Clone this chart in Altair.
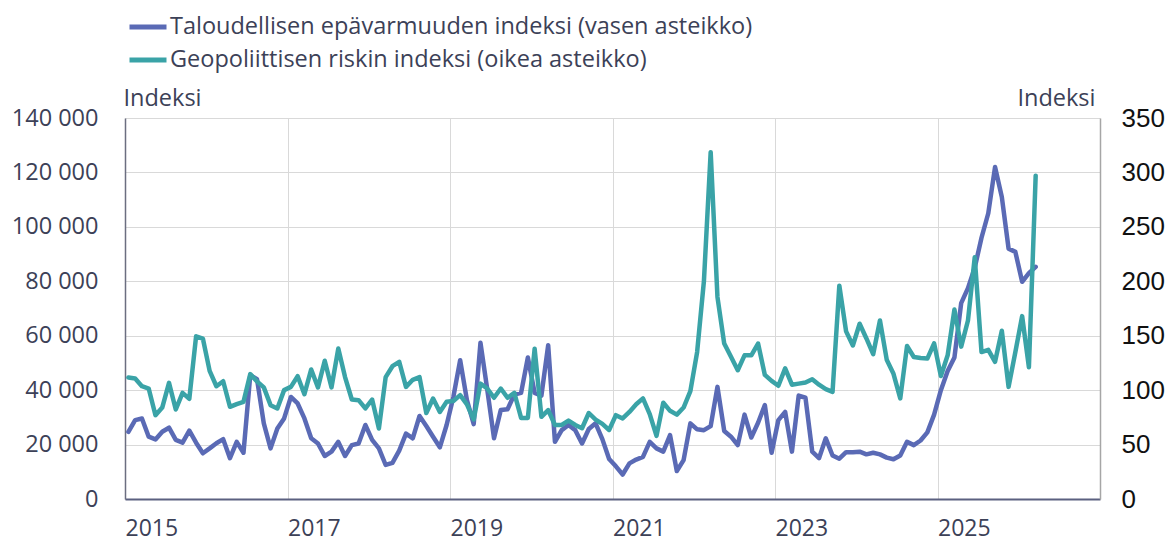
import altair as alt
import pandas as pd

# Monthly observations, Jan 2015 - Mar 2026
start_month = "2015-01-01"

econ = [24700, 29000, 29600, 22900, 21900, 24700, 26200, 21700, 20700, 25100,
        20700, 16800, 18600, 20500, 22000, 15000, 21000, 17000, 45500, 44000,
        27800, 18600, 25900, 29600, 37500, 35100, 29600, 22300, 20400, 15800,
        17400, 21000, 15800, 19800, 20400, 27200, 21700, 18600, 12500, 13300,
        17800, 24000, 22300, 30500, 26800, 22900, 19000, 27200, 37500, 51000,
        36300, 27500, 57400, 40300, 22300, 32700, 33000, 38400, 39000, 52000,
        39000, 38000, 56500, 21000, 25300, 27200, 25300, 20400, 25700, 27800,
        22000, 14700, 12000, 9000, 13100, 14500, 15500, 21000, 18600, 17400,
        23500, 10300, 14300, 27800, 25600, 25300, 26800, 41200, 25000, 22900,
        19800, 31000, 22600, 28000, 34500, 17000, 29000, 32000, 17400, 38000,
        37200, 17400, 15000, 22300, 16000, 14800, 17200, 17200, 17400, 16400,
        17000, 16400, 15200, 14600, 16000, 21000, 19800, 21500, 24500, 31000,
        40000, 47000, 52000, 72000, 77500, 85000, 96000, 105000, 122000, 111000,
        92000, 90800, 79800, 83000, 85300]

geo = [111.6, 110.7, 103.6, 101.5, 77, 84, 106.7, 82.2, 97.5, 92,
       149.5, 147.4, 117.7, 103.6, 108.2, 84.7, 87.2, 89.3, 114.7, 108,
       102.5, 86.2, 83.2, 100, 103, 112.8, 96.3, 119, 102.5, 127,
       102.5, 138.2, 112, 91.4, 90.8, 83.2, 91.4, 64.8, 112, 122,
       126, 103, 109.5, 112, 79, 92.3, 80, 89.3, 90, 95.4,
       87, 73, 106, 101.5, 93, 101.5, 93, 97.5, 74.5, 74.5,
       138, 75.5, 81.6, 68, 68, 72, 68, 65, 79, 73,
       69, 63.4, 77, 74, 80, 87, 92.4, 78, 58, 88.5,
       81, 77.5, 84, 99, 135, 200, 318.6, 185.6, 142.8, 130.6,
       118.3, 132, 132, 142.8, 114, 108.5, 104, 120, 105, 106,
       107, 110, 105, 101, 98.4, 196, 154, 141, 161, 147.5,
       133, 164, 128, 115, 92.4, 140.5, 130.5, 129.5, 129, 143,
       113, 132, 174, 140, 164, 222, 135, 137, 126, 154.5,
       103, 135, 168, 121, 297]

series_names = ["Taloudellisen epävarmuuden indeksi (vasen asteikko)",
                "Geopoliittisen riskin indeksi (oikea asteikko)"]
series_colors = ["#5a6ab5", "#3aa3a7"]

year_ticks = [2015, 2017, 2019, 2021, 2023, 2025]
left_ticks = [0, 20000, 40000, 60000, 80000, 100000, 120000, 140000]
right_ticks = [0, 50, 100, 150, 200, 250, 300, 350]

dates = pd.date_range(start_month, periods=len(econ), freq="MS")
t = [d.year + (d.month - 0.5) / 12 for d in dates]

df_e = pd.DataFrame({"t": t, "v": econ, "s": series_names[0]})
df_g = pd.DataFrame({"t": t, "v": geo, "s": series_names[1]})

label_col = "#3c4157"
font = "Open Sans"
fs = 23.5

x_enc = alt.X("t:Q",
              scale=alt.Scale(domain=[2015, 2027], nice=False, zero=False),
              axis=alt.Axis(values=year_ticks, format="d", labelAlign="left",
                            labelFlush=False, labelFontSize=23,
                            labelFont=font, labelColor=label_col, grid=True,
                            gridColor="#d9d9d9", gridWidth=1, ticks=False,
                            domainColor="#5b6080", domainWidth=2,
                            labelPadding=18, title=None))

color_enc = alt.Color("s:N",
                      scale=alt.Scale(domain=series_names, range=series_colors),
                      legend=alt.Legend(title=None, orient="none", legendX=2,
                                        legendY=-112, symbolType="stroke",
                                        symbolSize=1369, symbolStrokeWidth=5,
                                        labelFontSize=23.5, labelFont=font,
                                        labelColor=label_col, labelOffset=1,
                                        rowPadding=-3, padding=0,
                                        labelLimit=0))

line_e = alt.Chart(df_e).mark_line(strokeWidth=4.5, strokeJoin="round",
                                   strokeCap="round").encode(
    x=x_enc,
    y=alt.Y("v:Q",
            scale=alt.Scale(domain=[0, 140000], nice=False),
            axis=alt.Axis(values=left_ticks,
                          labelExpr="replace(format(datum.value, ',d'), ',', ' ')",
                          grid=True, gridColor="#d9d9d9", gridWidth=1,
                          ticks=False, domainColor="#6b6e80", domainWidth=1.5,
                          labelFontSize=fs, labelFont=font, labelColor=label_col,
                          labelPadding=27, title="Indeksi", titleAngle=0,
                          titleAlign="left", titleX=-2, titleY=-13,
                          titleBaseline="alphabetic", titleFont=font,
                          titleFontSize=fs, titleFontWeight="normal",
                          titleColor=label_col)),
    color=color_enc,
)

line_g = alt.Chart(df_g).mark_line(strokeWidth=4.5, strokeJoin="round",
                                   strokeCap="round").encode(
    x=x_enc,
    y=alt.Y("v:Q",
            scale=alt.Scale(domain=[0, 350], nice=False),
            axis=alt.Axis(values=right_ticks, format="d", orient="right",
                          grid=False, ticks=False, domainColor="#a6a6a6",
                          domainWidth=1.5, labelFontSize=26,
                          labelFont="Liberation Sans", labelColor="#111111",
                          labelPadding=21, title="Indeksi", titleAngle=0,
                          titleAlign="right", titleX=-5, titleY=-13,
                          titleBaseline="alphabetic", titleFont=font,
                          titleFontSize=fs, titleFontWeight="normal",
                          titleColor=label_col)),
    color=color_enc,
)

chart = alt.layer(line_e, line_g).resolve_scale(y="independent").properties(
    width=975, height=381,
    padding={"left": 117, "top": 110, "right": 65, "bottom": 49},
    autosize=alt.AutoSizeParams(type="none"),
    background="white",
).configure_view(stroke=None)

chart.save("out.html", embed_options={"renderer": "svg", "actions": False})
